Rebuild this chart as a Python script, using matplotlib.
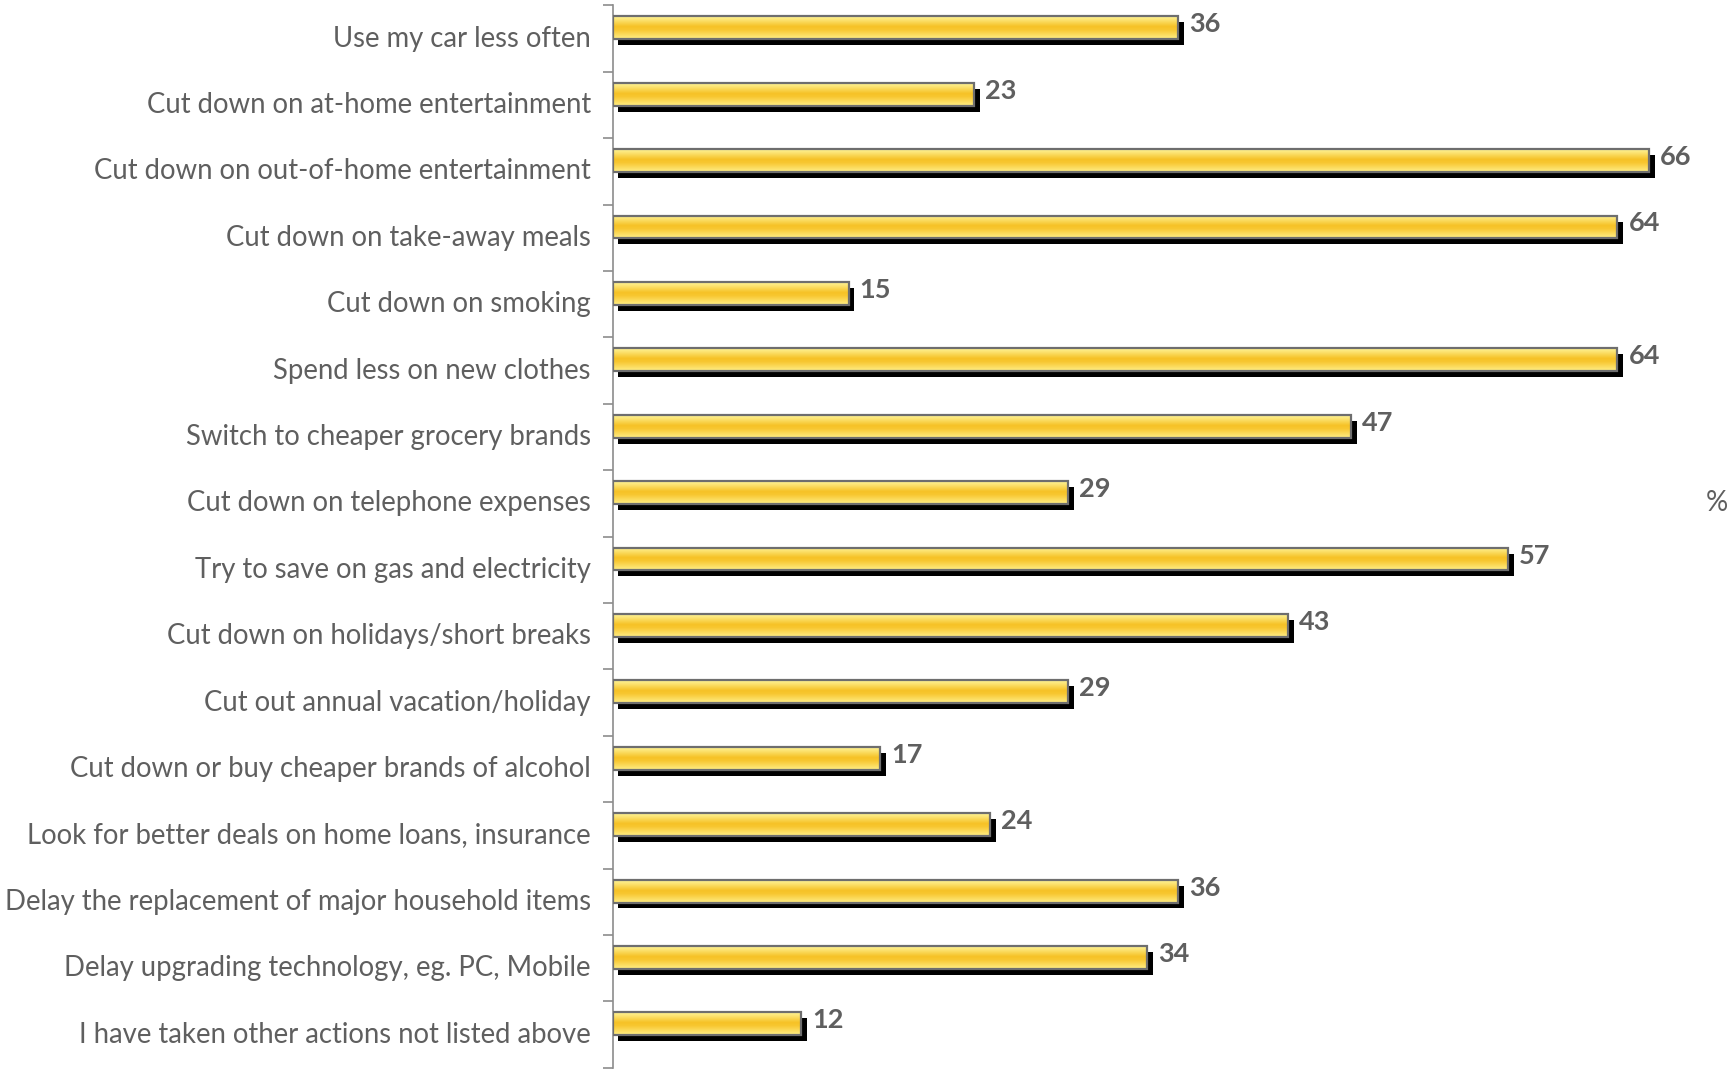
import numpy as np
import matplotlib.pyplot as plt
from matplotlib.colors import LinearSegmentedColormap
from matplotlib.patches import Rectangle

categories = [
    "Use my car less often",
    "Cut down on at-home entertainment",
    "Cut down on out-of-home entertainment",
    "Cut down on take-away meals",
    "Cut down on smoking",
    "Spend less on new clothes",
    "Switch to cheaper grocery brands",
    "Cut down on telephone expenses",
    "Try to save on gas and electricity",
    "Cut down on holidays/short breaks",
    "Cut out annual vacation/holiday",
    "Cut down or buy cheaper brands of alcohol",
    "Look for better deals on home loans, insurance",
    "Delay the replacement of major household items",
    "Delay upgrading technology, eg. PC, Mobile",
    "I have taken other actions not listed above",
]
values = [36, 23, 66, 64, 15, 64, 47, 29, 57, 43, 29, 17, 24, 36, 34, 12]

plt.rcParams['font.family'] = ['Lato', 'DejaVu Sans']
text_grey = '#5f5f5f'

fig = plt.figure(figsize=(17.32, 10.70), dpi=100)
ax = fig.add_axes([0.354, 0.002, 0.646, 0.993])

xmax = 71.3
ax.set_xlim(0, xmax)
ax.set_ylim(len(categories) - 0.5, -0.5)

# gold gradient, light at the edges and deeper in the middle
gold = LinearSegmentedColormap.from_list(
    'gold', [(0, '#fff59a'), (0.45, '#f6c226'), (0.6, '#f8c731'), (1, '#ffee86')])
grad = np.linspace(0, 1, 64).reshape(-1, 1)

top_off = -0.335
bot_off = 0.01
dx = 0.3
dy = 0.09

for i, v in enumerate(values):
    # drop shadow
    ax.add_patch(Rectangle((dx, i + top_off + dy), v + 0.08, bot_off - top_off,
                           facecolor='black', edgecolor='none', zorder=1))
    ax.imshow(grad, cmap=gold, aspect='auto', interpolation='bilinear',
              extent=(0, v, i + bot_off, i + top_off), zorder=2)
    ax.add_patch(Rectangle((0, i + top_off), v, bot_off - top_off,
                           facecolor='none', edgecolor='#6e6e6e', linewidth=1.6, zorder=3))
    ax.text(v + dx + 0.4, i + top_off + 0.12, str(v), ha='left', va='center',
            fontsize=19.5, fontweight='bold', color=text_grey)

ax.set_yticks(np.arange(len(categories)))
ax.set_yticklabels(categories, fontsize=19.8, color=text_grey, va='center')
ax.set_yticks(np.arange(len(categories) + 1) - 0.5, minor=True)
ax.tick_params(axis='y', which='major', length=0, pad=16)
ax.tick_params(axis='y', which='minor', length=7, color='#8c8c8c', width=1.2)
ax.set_xticks([])
for s in ['top', 'right', 'bottom']:
    ax.spines[s].set_visible(False)
ax.spines['left'].set_color('#8c8c8c')
ax.spines['left'].set_linewidth(1.2)

fig.text(0.9915, 0.53, '%', ha='center', va='center', fontsize=20, color=text_grey)

fig.savefig('out.png', dpi=100)
